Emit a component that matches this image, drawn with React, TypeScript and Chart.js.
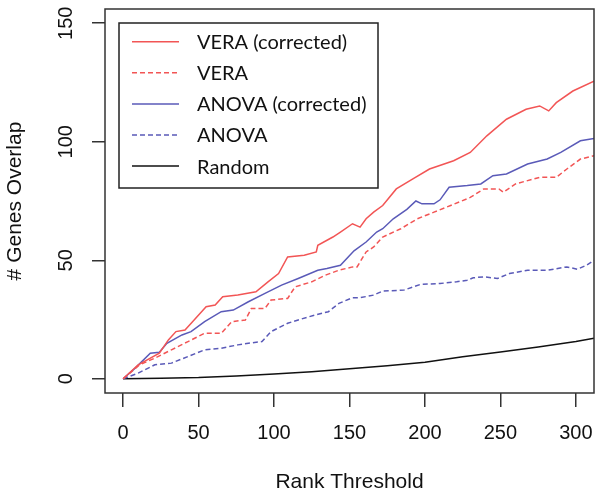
import React, { useEffect, useRef } from "react";
import { Chart, registerables } from "chart.js";

Chart.register(...registerables);

// ---- data ----
const seriesLabels = ["VERA (corrected)", "VERA", "ANOVA (corrected)", "ANOVA", "Random"];

const veraCorrX = [0, 10, 24, 30, 35, 41, 46, 55, 61, 66, 76, 88, 96, 103, 109, 120, 128, 129, 139, 144, 152, 157, 161, 166, 172, 181, 192, 203, 219, 230, 241, 254, 267, 276, 282, 287, 298, 312];
const veraCorrY = [0, 5.9, 10.8, 16.4, 19.9, 20.6, 24.1, 30.4, 31.1, 34.6, 35.3, 36.7, 40.9, 44.4, 51.4, 52.1, 53.5, 56.3, 59.8, 61.9, 65.4, 64, 67.5, 70.3, 73.1, 80.1, 84.3, 88.5, 92, 95.5, 102.5, 109.5, 113.7, 115.1, 113, 116.5, 121.4, 125.6];

const veraX = [0, 11, 21, 32, 43, 54, 65, 72, 81, 85, 94, 98, 109, 114, 125, 134, 143, 152, 155, 161, 166, 172, 184, 195, 206, 217, 230, 239, 249, 252, 260, 276, 287, 294, 303, 312];
const veraY = [0, 5.9, 8.7, 12.2, 15.7, 19.2, 19.2, 24.1, 24.8, 29.7, 29.7, 33.2, 33.9, 38.8, 40.9, 43.7, 45.8, 47.2, 47.2, 53.5, 55.6, 59.8, 63.3, 67.5, 70.3, 73.1, 76.5, 80.1, 80.1, 78.7, 82.2, 85, 85, 88.5, 92.7, 94.1];

const anovaCorrX = [0, 8, 18, 24, 29, 39, 45, 54, 65, 73, 83, 94, 105, 116, 129, 135, 144, 153, 161, 168, 172, 179, 188, 194, 198, 206, 210, 216, 228, 237, 245, 254, 268, 281, 290, 303, 312];
const anovaCorrY = [0, 4.5, 10.8, 11.2, 15, 18.5, 19.9, 24.1, 28.3, 29, 32.5, 36, 39.5, 42.3, 45.8, 46.5, 47.9, 54, 57.7, 61.9, 63.3, 67.5, 71.5, 75, 73.8, 73.8, 75.5, 80.8, 81.5, 82.2, 85.7, 86.4, 90.6, 92.7, 95.5, 100.4, 101.4];

const anovaX = [0, 10, 21, 32, 43, 54, 65, 76, 83, 92, 98, 109, 116, 127, 136, 143, 152, 157, 166, 172, 186, 197, 210, 221, 228, 232, 239, 248, 256, 268, 281, 294, 301, 307, 312];
const anovaY = [0, 2.4, 5.9, 6.6, 9.4, 12.2, 12.9, 14.3, 15, 15.7, 19.9, 23.4, 24.8, 26.9, 28.3, 31.8, 34.2, 34.2, 35.3, 37, 37.4, 39.8, 40.2, 40.9, 41.6, 42.6, 43, 42.3, 44.4, 45.8, 45.8, 47.2, 46.2, 47.9, 50];

const randomX = [0, 25, 50, 75, 100, 125, 150, 175, 200, 225, 250, 275, 300, 312];
const randomY = [0, 0.2, 0.5, 1.2, 2.0, 3.0, 4.2, 5.5, 7.0, 9.3, 11.3, 13.4, 15.7, 17.1];

const xTicks = [0, 50, 100, 150, 200, 250, 300];
const yTicks = [0, 50, 100, 150];

const RED = "#f25555";
const BLUE = "#5a5ab8";
const BLACK = "#111111";

const toPts = (xs: number[], ys: number[]) => xs.map((x, i) => ({ x, y: ys[i] }));

const boxPlugin = {
  id: "rbox",
  afterDraw(chart: any) {
    const { ctx, chartArea } = chart;
    const { left, top, right, bottom } = chartArea;
    ctx.save();
    ctx.strokeStyle = "#333";
    ctx.lineWidth = 1.5;
    ctx.setLineDash([]);
    ctx.strokeRect(left, top, right - left, bottom - top);

    // legend box
    const bx = left + 14;
    const by = top + 14;
    const bw = 259;
    const bh = 165;
    ctx.fillStyle = "#fff";
    ctx.fillRect(bx, by, bw, bh);
    ctx.strokeStyle = "#222";
    ctx.strokeRect(bx, by, bw, bh);
    ctx.font = "20px Lato";
    ctx.textBaseline = "middle";
    ctx.textAlign = "left";
    chart.data.datasets.forEach((ds: any, i: number) => {
      const y = by + 18.7 + i * 31.1;
      ctx.strokeStyle = ds.borderColor;
      ctx.lineWidth = 1.5;
      ctx.setLineDash(ds.borderDash || []);
      ctx.beginPath();
      ctx.moveTo(bx + 13, y);
      ctx.lineTo(bx + 60, y);
      ctx.stroke();
      ctx.fillStyle = "#111";
      ctx.fillText(ds.label, bx + 78, y + 1);
    });
    ctx.restore();
  },
};

export default function App() {
  const ref = useRef<HTMLCanvasElement | null>(null);

  useEffect(() => {
    if (!ref.current) return;
    const mk = (i: number, xs: number[], ys: number[], color: string, dash: number[]) => ({
      label: seriesLabels[i],
      data: toPts(xs, ys),
      borderColor: color,
      backgroundColor: color,
      borderWidth: 1.5,
      borderDash: dash,
      pointRadius: 0,
      tension: 0,
      fill: false,
    });
    const chart = new Chart(ref.current, {
      type: "line",
      data: {
        datasets: [
          mk(0, veraCorrX, veraCorrY, RED, []),
          mk(1, veraX, veraY, RED, [5, 3]),
          mk(2, anovaCorrX, anovaCorrY, BLUE, []),
          mk(3, anovaX, anovaY, BLUE, [5, 3]),
          mk(4, randomX, randomY, BLACK, []),
        ],
      },
      options: {
        animation: false,
        responsive: false,
        layout: { padding: { top: 9, right: 8, left: 0, bottom: 0 } },
        plugins: { legend: { display: false }, tooltip: { enabled: false } },
        scales: {
          x: {
            type: "linear",
            min: -12,
            max: 312,
            afterBuildTicks: (axis: any) => {
              axis.ticks = xTicks.map((v) => ({ value: v }));
            },
            afterFit: (axis: any) => {
              axis.height = 102;
              axis.paddingLeft = 0;
              axis.paddingRight = 0;
            },
            border: { display: false },
            grid: { drawOnChartArea: false, drawTicks: true, tickLength: 14, color: "#333", lineWidth: 1.5 },
            ticks: {
              padding: 14,
              color: "#111",
              font: { family: "'Liberation Sans', Arial, sans-serif", size: 20 },
              maxRotation: 0,
              minRotation: 0,
            },
            title: {
              display: true,
              text: "Rank Threshold",
              color: "#111",
              font: { family: "'Liberation Sans', Arial, sans-serif", size: 21 },
              padding: { top: 0, bottom: 0 },
            },
          },
          y: {
            type: "linear",
            min: -6,
            max: 156,
            afterBuildTicks: (axis: any) => {
              axis.ticks = yTicks.map((v) => ({ value: v }));
            },
            afterFit: (axis: any) => {
              axis.width = 105;
              axis.paddingTop = 0;
              axis.paddingBottom = 0;
            },
            border: { display: false },
            grid: { drawOnChartArea: false, drawTicks: true, tickLength: 13, color: "#333", lineWidth: 1.5 },
            ticks: {
              padding: 9,
              color: "#111",
              crossAlign: "center",
              minRotation: 90,
              maxRotation: 90,
              font: { family: "'Liberation Sans', Arial, sans-serif", size: 20 },
            },
            title: {
              display: true,
              text: "# Genes Overlap",
              color: "#111",
              font: { family: "'Liberation Sans', Arial, sans-serif", size: 21 },
              padding: { top: 3, bottom: 0 },
            },
          },
        },
      } as any,
      plugins: [boxPlugin],
    });
    return () => chart.destroy();
  }, []);

  return (
    <div style={{ position: "absolute", left: 0, top: 0, width: 602, height: 495, background: "#fff" }}>
      <canvas ref={ref} width={602} height={495} />
    </div>
  );
}
